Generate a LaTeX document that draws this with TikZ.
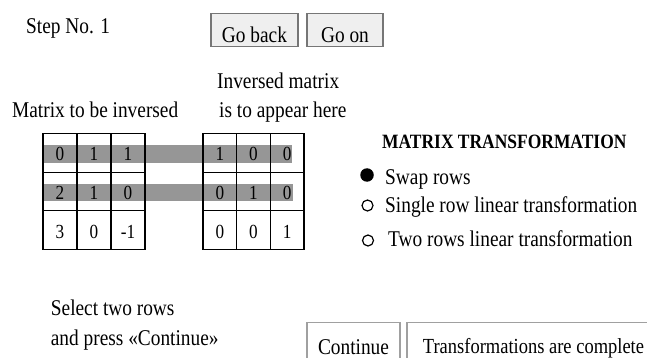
\documentclass[tikz,border=0pt]{standalone}
\usepackage{fontspec}
\setmainfont{Liberation Serif}[FakeStretch=0.86]
\definecolor{barc}{RGB}{150,150,150}
\definecolor{btnfill}{RGB}{239,239,239}
\definecolor{btnline}{RGB}{118,118,118}
\definecolor{boxline}{RGB}{160,160,160}
\begin{document}
\begin{tikzpicture}[x=1pt,y=-1pt,
  txt/.style={anchor=base west,inner sep=0pt,font=\fontsize{22.5}{26}\selectfont},
  cell/.style={draw=black,line width=1.3pt,inner sep=0pt,minimum height=38.67pt,
    text height=16pt,text depth=0pt,font=\fontsize{20}{24}\selectfont},
  lcell/.style={cell,minimum width=34pt},
  rcell/.style={cell,minimum width=33.67pt},
  topbtn/.style={draw=btnline,fill=btnfill,line width=1.2pt,inner sep=0pt,
    minimum height=33.4pt,text height=25.4pt,text depth=0pt,font=\fontsize{22.5}{26}\selectfont},
  botbtn/.style={draw=boxline,fill=white,line width=1.1pt,inner sep=0pt,
    minimum height=48pt,text height=14.6pt,text depth=0pt},
  radio/.style={circle,draw=black,line width=1.2pt,inner sep=0pt,minimum size=11pt},
  radioon/.style={circle,fill=black,inner sep=0pt,minimum size=13.5pt}
]
\useasboundingbox (0,0) rectangle (647,358);
\fill[white] (0,0) rectangle (647,358);

% header
\node[txt] (step) at (26,33.3) {Step No. 1};
\node[topbtn,minimum width=87pt] (goback) at (254.5,30) {Go back};
\node[topbtn,minimum width=76pt] (goon) at (345,30) {Go on};

\node[txt] (inv1) at (217,89) {Inversed matrix};
\node[txt] (inv2) at (219,117.5) {is to appear here};
\node[txt] (mtbi) at (12,117.5) {Matrix to be inversed};

% selection bars
\fill[barc] (42,145.5) rectangle (292,163.5);
\fill[barc] (43,183.5) rectangle (293,200.5);

% left matrix
\foreach \r/\a/\b/\c [count=\i] in {1/0/1/1,2/2/1/0,3/3/0/-1}{
  \pgfmathsetmacro\yy{133.5+38.67*(\i-0.5)}
  \node[lcell] (L\i1) at (60,\yy) {\a};
  \node[lcell] (L\i2) at (94,\yy) {\b};
  \node[lcell] (L\i3) at (128,\yy) {\c};
}
% right matrix
\foreach \r/\a/\b/\c [count=\i] in {1/1/0/0,2/0/1/0,3/0/0/1}{
  \pgfmathsetmacro\yy{133.5+38.67*(\i-0.5)}
  \node[rcell] (R\i1) at (219.8,\yy) {\a};
  \node[rcell] (R\i2) at (253.5,\yy) {\b};
  \node[rcell] (R\i3) at (287.2,\yy) {\c};
}

% transformation panel
\node[txt,font=\fontsize{20.3}{24}\selectfont\bfseries] (title) at (382,149) {MATRIX TRANSFORMATION};
\node[radioon] (opt1) at (367,175) {};
\node[radio] (opt2) at (367.5,205.5) {};
\node[radio] (opt3) at (368,240.5) {};
\node[txt] (o1) at (385,184) {Swap rows};
\node[txt] (o2) at (385,212) {Single row linear transformation};
\node[txt] (o3) at (388,246.5) {Two rows linear transformation};

% footer
\node[txt] (sel1) at (50.7,315) {Select two rows};
\node[txt] (sel2) at (50.7,345.5) {and press «Continue»};
\node[botbtn,minimum width=93pt,font=\fontsize{22.5}{26}\selectfont] (cont) at (353.5,346.7) {Continue};
\node[botbtn,minimum width=253pt,font=\fontsize{21.5}{25}\selectfont] (done) at (533.5,346.2) {Transformations are complete};
\end{tikzpicture}
\end{document}
